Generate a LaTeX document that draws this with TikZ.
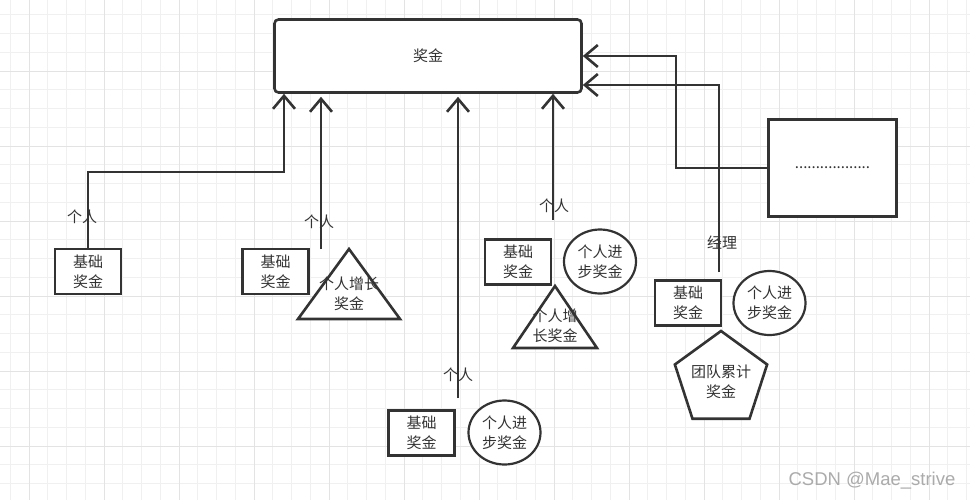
\documentclass[tikz,border=0pt]{standalone}
\usepackage{fontspec}
\setmainfont{Noto Sans CJK SC}
\newfontfamily\markfont{Liberation Sans}
\usetikzlibrary{arrows.meta, calc, shapes.geometric}
\definecolor{ink}{HTML}{333333}
\definecolor{gridminor}{HTML}{F0F0F0}
\definecolor{gridmajor}{HTML}{E3E3E3}
\definecolor{wmark}{HTML}{ABABAB}

\begin{document}
\begin{tikzpicture}[x=1pt, y=-1pt,
		every node/.style={font=\fontsize{15}{20}\selectfont, text=ink},
		box/.style={draw=ink, line width=2.6pt, fill=white, minimum width=66pt, minimum height=45pt, align=center, inner sep=0pt},
		bubble/.style={draw=ink, line width=2.2pt, fill=white, ellipse, minimum width=72pt, minimum height=64pt, align=center, inner sep=0pt},
		wire/.style={draw=ink, line width=2.6pt},
		conn/.style={wire, -{Straight Barb[length=13pt, width=22pt]}},
		tag/.style={inner sep=0pt}]
			\useasboundingbox (0,0) rectangle (970,499);
			\fill[white] (0,0) rectangle (970,499);
			\begin{scope}
				\clip (0,0) rectangle (970,499);
				\draw[gridminor, line width=0.9pt, shift={(10.25,14.75)}, step=18.75pt] (-20,520) grid (990,-20);
				\draw[gridmajor, line width=1pt, shift={(29,71)}, step=75pt] (-80,580) grid (1050,-80);
			\end{scope}

			\node[box, rounded corners=4pt, minimum width=307pt, minimum height=73pt] (bonus) at (428,56) {奖金};
			\node[box, minimum width=128pt, minimum height=97pt] (other) at (832.5,168) {..................};

			\node[box] (base1) at (88,271.5) {基础\\奖金};
			\node[box] (base2) at (275.5,271.5) {基础\\奖金};
			\node[box] (base3) at (518,262) {基础\\奖金};
			\node[box] (base4) at (421.5,433) {基础\\奖金};
			\node[box] (base5) at (688,303) {基础\\奖金};

			\node[bubble] (step1) at (600,261.5) {个人进\\步奖金};
			\node[bubble] (step2) at (504.5,432.5) {个人进\\步奖金};
			\node[bubble] (step3) at (769.5,303) {个人进\\步奖金};

			\coordinate (grow1) at (349,249);
			\coordinate (grow2) at (555,286);
			\draw[wire, fill=white] (grow1) -- ++(-51,70) -- ++(102,0) -- cycle;
			\draw[wire, fill=white] (grow2) -- ++(-42,62) -- ++(84,0) -- cycle;
			\node[tag, align=center] (growtext1) at (349,294) {个人增长\\奖金};
			\node[tag, align=center] (growtext2) at (555,326) {个人增\\长奖金};

			\node[draw=ink, line width=2.6pt, fill=white, regular polygon, regular polygon sides=5, minimum size=97pt, inner sep=0pt, outer sep=0pt] (team) at (721,379.5) {};
			\node[tag, align=center] (teamtext) at (721,382) {团队累计\\奖金};

			\coordinate (p2) at (321,249);
			\coordinate (p3) at (458,398);
			\coordinate (p4) at (553,220);
			\coordinate (mgr) at (719,272);
			\coordinate (bend1) at (284,172);
			\coordinate (bend2) at (676,56);
			\coordinate (bend3) at (719,85);

			\draw[conn] (base1.north) |- (bend1) -- (bend1 |- bonus.south);
			\draw[conn, shorten >=3pt] (p2) -- (p2 |- bonus.south);
			\draw[conn, shorten >=3pt] (p3) -- (p3 |- bonus.south);
			\draw[conn] (p4) -- (p4 |- bonus.south);
			\draw[conn] (other.west) -| (bend2) -- (bend2 -| bonus.east);
			\draw[conn] (mgr) -- (bend3) -- (bend3 -| bonus.east);

			\node[tag] (who1) at (82,217) {个人};
			\node[tag] (who2) at (319,222) {个人};
			\node[tag] (who3) at (458,375) {个人};
			\node[tag] (who4) at (554,206) {个人};
			\node[tag] (boss) at (722,243) {经理};

			\node[tag, font=\markfont\fontsize{18.5}{19}\selectfont, text=wmark] (mark) at (872,481) {CSDN @Mae\_strive};
		\end{tikzpicture}
\end{document}
